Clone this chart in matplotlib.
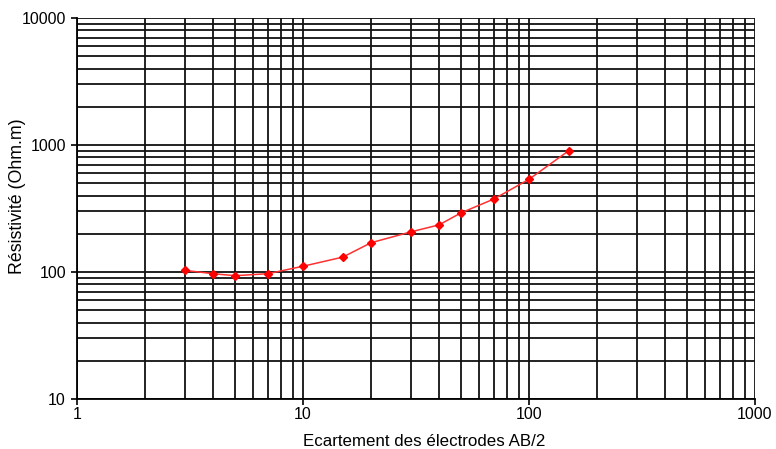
import matplotlib
matplotlib.use('Agg')
import matplotlib.pyplot as plt
from matplotlib.ticker import LogLocator, FixedLocator, FixedFormatter, NullFormatter

plt.rcParams['font.family'] = ['Liberation Sans', 'DejaVu Sans']

# AB/2 spacing (m) and apparent resistivity (Ohm.m)
ab2 = [3, 4, 5, 7, 10, 15, 20, 30, 40, 50, 70, 100, 150]
rho = [103, 97, 93.5, 97, 111, 131, 170, 207, 235, 292, 376, 537, 902]

x_ticks = [1, 10, 100, 1000]
y_ticks = [10, 100, 1000, 10000]

W, H = 776, 449
fig = plt.figure(figsize=(W / 100, H / 100), dpi=100)
ax = fig.add_axes([77 / W, 1 - 399 / H, 678 / W, 381 / H])

ax.set_xscale('log')
ax.set_yscale('log')
ax.set_xlim(1, 1000)
ax.set_ylim(10, 10000)

ax.plot(ab2, rho, color='#ff3030', linewidth=1.1, zorder=3)
ax.plot(ab2, rho, linestyle='none', marker='D', markersize=4,
        color='red', zorder=4)

ax.xaxis.set_major_locator(FixedLocator(x_ticks))
ax.xaxis.set_major_formatter(FixedFormatter([str(v) for v in x_ticks]))
ax.yaxis.set_major_locator(FixedLocator(y_ticks))
ax.yaxis.set_major_formatter(FixedFormatter([str(v) for v in y_ticks]))
ax.xaxis.set_minor_locator(LogLocator(base=10, subs=range(2, 10)))
ax.yaxis.set_minor_locator(LogLocator(base=10, subs=range(2, 10)))
ax.xaxis.set_minor_formatter(NullFormatter())
ax.yaxis.set_minor_formatter(NullFormatter())

ax.grid(which='both', color='#111111', linewidth=1.3)
ax.tick_params(which='major', length=4, width=1.2, labelsize=11.5,
               color='black')
ax.tick_params(which='minor', length=0)
ax.tick_params(axis='x', pad=2)
ax.tick_params(axis='y', pad=4)

for side in ['top', 'right']:
    ax.spines[side].set_visible(False)
for side in ['left', 'bottom']:
    ax.spines[side].set_linewidth(1.3)

fig.text(424 / W, 1 - 441 / H, 'Ecartement des électrodes AB/2',
         fontsize=12.2, ha='center', va='center')
fig.text(18 / W, 1 - 196 / H, 'Résistivité (Ohm.m)',
         fontsize=12.8, ha='center', va='center', rotation=90)

fig.savefig('out.png', dpi=100)
